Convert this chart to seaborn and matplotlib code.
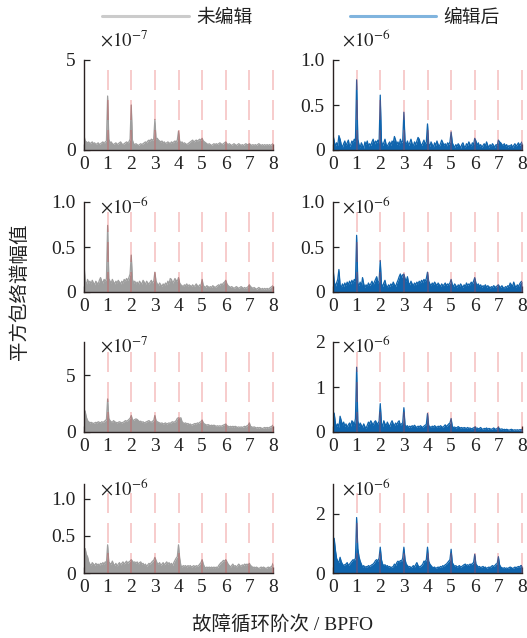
import numpy as np
import seaborn as sns
import matplotlib
matplotlib.use("Agg")
import matplotlib.pyplot as plt
from matplotlib.lines import Line2D

# Fault order axis (multiples of BPFO), 0.05 resolution
orders = np.round(np.arange(161) * 0.05, 2)

# Squared envelope spectra, case 1 (units shown by each panel's multiplier)
raw_1 = [0.8, 0.5, 0.45, 0.4, 0.45, 0.35, 0.4, 0.45, 0.35, 0.4, 0.3, 0.35, 0.4, 0.3, 0.35, 0.4, 0.45, 0.35, 0.45, 0.5,
         3.0, 0.6, 0.4, 0.45, 0.35, 0.3, 0.35, 0.4, 0.3, 0.35, 0.4, 0.45, 0.35, 0.3, 0.35, 0.4, 0.45, 0.4, 0.45, 0.6,
         2.5, 0.55, 0.35, 0.3, 0.35, 0.3, 0.25, 0.3, 0.35, 0.3, 0.35, 0.4, 0.45, 0.4, 0.5, 0.55, 0.5, 0.6, 0.55, 0.6,
         1.7, 0.6, 0.65, 0.55, 0.5, 0.45, 0.5, 0.4, 0.45, 0.35, 0.4, 0.45, 0.4, 0.35, 0.45, 0.4, 0.45, 0.5, 0.45, 0.55,
         1.05, 0.5, 0.4, 0.45, 0.35, 0.4, 0.35, 0.3, 0.35, 0.4, 0.45, 0.5, 0.55, 0.45, 0.5, 0.55, 0.5, 0.55, 0.6, 0.55,
         0.65, 0.5, 0.45, 0.4, 0.35, 0.3, 0.35, 0.3, 0.25, 0.3, 0.35, 0.3, 0.35, 0.3, 0.35, 0.4, 0.35, 0.3, 0.35, 0.4,
         0.45, 0.35, 0.3, 0.35, 0.3, 0.25, 0.3, 0.35, 0.3, 0.25, 0.3, 0.35, 0.3, 0.25, 0.3, 0.25, 0.3, 0.35, 0.3, 0.3,
         0.35, 0.3, 0.25, 0.3, 0.25, 0.3, 0.25, 0.3, 0.35, 0.3, 0.25, 0.3, 0.25, 0.3, 0.25, 0.3, 0.25, 0.3, 0.25, 0.3,
         0.35]
edit_1 = [0.17, 0.1, 0.04, 0.08, 0.05, 0.16, 0.12, 0.06, 0.03, 0.07, 0.1, 0.05, 0.08, 0.11, 0.04, 0.06, 0.1, 0.08, 0.12, 0.1,
          0.78, 0.12, 0.06, 0.03, 0.08, 0.05, 0.02, 0.09, 0.06, 0.1, 0.04, 0.07, 0.05, 0.09, 0.12, 0.06, 0.1, 0.08, 0.11, 0.07,
          0.61, 0.1, 0.05, 0.08, 0.12, 0.06, 0.04, 0.07, 0.09, 0.05, 0.1, 0.08, 0.15, 0.11, 0.06, 0.09, 0.05, 0.12, 0.08, 0.1,
          0.42, 0.09, 0.06, 0.1, 0.05, 0.08, 0.12, 0.07, 0.04, 0.09, 0.06, 0.1, 0.14, 0.12, 0.07, 0.05, 0.08, 0.11, 0.06, 0.09,
          0.29, 0.07, 0.04, 0.09, 0.06, 0.03, 0.08, 0.05, 0.1, 0.06, 0.04, 0.07, 0.11, 0.08, 0.05, 0.07, 0.04, 0.08, 0.06, 0.09,
          0.2, 0.08, 0.05, 0.03, 0.06, 0.04, 0.07, 0.05, 0.02, 0.06, 0.08, 0.04, 0.03, 0.07, 0.05, 0.09, 0.06, 0.04, 0.08, 0.06,
          0.13, 0.1, 0.05, 0.08, 0.04, 0.06, 0.03, 0.05, 0.07, 0.04, 0.09, 0.05, 0.03, 0.06, 0.04, 0.07, 0.05, 0.03, 0.06, 0.05,
          0.11, 0.09, 0.08, 0.06, 0.05, 0.07, 0.04, 0.06, 0.03, 0.05, 0.04, 0.06, 0.03, 0.05, 0.07, 0.04, 0.06, 0.08, 0.05, 0.07,
          0.09]

# Case 2
raw_2 = [0.31, 0.12, 0.08, 0.14, 0.1, 0.12, 0.09, 0.13, 0.1, 0.08, 0.12, 0.1, 0.09, 0.13, 0.16, 0.12, 0.1, 0.14, 0.12, 0.15,
         0.74, 0.15, 0.12, 0.1, 0.14, 0.11, 0.09, 0.12, 0.1, 0.13, 0.11, 0.09, 0.12, 0.1, 0.14, 0.12, 0.15, 0.13, 0.16, 0.2,
         0.41, 0.14, 0.1, 0.12, 0.09, 0.11, 0.08, 0.12, 0.1, 0.09, 0.13, 0.11, 0.08, 0.12, 0.1, 0.09, 0.11, 0.13, 0.1, 0.12,
         0.22, 0.12, 0.09, 0.07, 0.1, 0.08, 0.06, 0.09, 0.07, 0.1, 0.08, 0.12, 0.09, 0.15, 0.14, 0.1, 0.12, 0.15, 0.13, 0.12,
         0.16, 0.1, 0.08, 0.07, 0.06, 0.08, 0.07, 0.09, 0.06, 0.08, 0.07, 0.06, 0.08, 0.06, 0.07, 0.09, 0.07, 0.06, 0.08, 0.07,
         0.14, 0.07, 0.06, 0.05, 0.07, 0.06, 0.05, 0.06, 0.05, 0.07, 0.06, 0.05, 0.06, 0.07, 0.08, 0.07, 0.09, 0.08, 0.1, 0.11,
         0.13, 0.09, 0.07, 0.06, 0.05, 0.06, 0.05, 0.04, 0.05, 0.06, 0.05, 0.04, 0.05, 0.06, 0.05, 0.04, 0.05, 0.04, 0.05, 0.06,
         0.08, 0.06, 0.05, 0.04, 0.05, 0.04, 0.03, 0.04, 0.05, 0.04, 0.03, 0.04, 0.03, 0.04, 0.03, 0.04, 0.03, 0.04, 0.05, 0.06,
         0.07]
edit_2 = [0.27, 0.12, 0.06, 0.1, 0.14, 0.25, 0.08, 0.05, 0.09, 0.06, 0.1, 0.07, 0.11, 0.08, 0.12, 0.09, 0.13, 0.1, 0.14, 0.12,
          0.63, 0.1, 0.07, 0.11, 0.06, 0.16, 0.09, 0.05, 0.08, 0.06, 0.1, 0.07, 0.09, 0.12, 0.08, 0.11, 0.14, 0.17, 0.1, 0.12,
          0.35, 0.09, 0.06, 0.1, 0.13, 0.07, 0.05, 0.08, 0.06, 0.09, 0.07, 0.11, 0.08, 0.06, 0.1, 0.13, 0.17, 0.2, 0.16, 0.19,
          0.2, 0.15, 0.12, 0.17, 0.1, 0.08, 0.12, 0.09, 0.07, 0.1, 0.08, 0.11, 0.09, 0.12, 0.1, 0.13, 0.11, 0.14, 0.12, 0.15,
          0.22, 0.12, 0.09, 0.07, 0.1, 0.08, 0.11, 0.09, 0.07, 0.1, 0.08, 0.06, 0.09, 0.07, 0.08, 0.1, 0.07, 0.09, 0.08, 0.1,
          0.14, 0.08, 0.06, 0.09, 0.07, 0.05, 0.08, 0.06, 0.09, 0.07, 0.05, 0.08, 0.06, 0.1, 0.07, 0.09, 0.08, 0.11, 0.09, 0.12,
          0.16, 0.1, 0.07, 0.09, 0.06, 0.08, 0.05, 0.07, 0.06, 0.08, 0.05, 0.07, 0.06, 0.04, 0.06, 0.05, 0.07, 0.06, 0.05, 0.07,
          0.08, 0.06, 0.05, 0.07, 0.05, 0.04, 0.06, 0.05, 0.07, 0.06, 0.1, 0.08, 0.06, 0.11, 0.07, 0.05, 0.08, 0.06, 0.09, 0.11,
          0.12]

# Case 3
raw_3 = [2.0, 1.8, 1.3, 1.0, 0.9, 0.8, 0.85, 0.8, 0.75, 0.8, 0.85, 0.8, 0.9, 0.85, 0.8, 0.9, 0.85, 0.9, 1.0, 1.1,
         2.9, 1.2, 1.0, 0.9, 0.85, 1.0, 0.9, 0.85, 0.8, 0.85, 0.9, 0.85, 0.8, 0.85, 0.9, 1.0, 0.95, 1.0, 1.1, 1.2,
         1.45, 1.1, 1.0, 1.1, 1.15, 1.1, 1.0, 0.9, 0.95, 0.85, 0.9, 0.8, 0.85, 0.9, 0.95, 1.0, 0.9, 0.85, 0.95, 1.0,
         1.45, 1.0, 0.9, 0.85, 0.8, 0.75, 0.8, 0.7, 0.75, 0.8, 0.7, 0.75, 0.8, 0.75, 0.85, 0.9, 0.85, 0.9, 1.0, 1.2,
         1.25, 1.2, 1.25, 0.9, 0.8, 0.75, 0.8, 0.7, 0.75, 0.65, 0.7, 0.6, 0.65, 0.7, 0.75, 0.7, 0.8, 0.75, 0.85, 0.9,
         1.05, 0.8, 0.7, 0.65, 0.6, 0.65, 0.6, 0.55, 0.6, 0.55, 0.6, 0.55, 0.5, 0.55, 0.5, 0.55, 0.5, 0.55, 0.6, 0.65,
         0.7, 0.55, 0.5, 0.45, 0.5, 0.45, 0.5, 0.45, 0.5, 0.45, 0.4, 0.45, 0.4, 0.45, 0.4, 0.45, 0.5, 0.45, 0.55, 0.6,
         0.8, 0.5, 0.45, 0.4, 0.45, 0.4, 0.35, 0.4, 0.35, 0.4, 0.35, 0.3, 0.35, 0.4, 0.35, 0.4, 0.35, 0.4, 0.45, 0.5,
         0.6]
edit_3 = [0.3, 0.42, 0.2, 0.12, 0.18, 0.1, 0.35, 0.25, 0.15, 0.22, 0.12, 0.18, 0.1, 0.16, 0.2, 0.13, 0.25, 0.22, 0.15, 0.3,
          1.44, 0.25, 0.12, 0.2, 0.15, 0.1, 0.18, 0.12, 0.08, 0.15, 0.22, 0.18, 0.25, 0.2, 0.15, 0.22, 0.25, 0.2, 0.18, 0.24,
          0.63, 0.2, 0.12, 0.25, 0.18, 0.14, 0.22, 0.16, 0.12, 0.2, 0.25, 0.18, 0.14, 0.2, 0.16, 0.22, 0.25, 0.15, 0.18, 0.2,
          0.54, 0.15, 0.12, 0.14, 0.1, 0.13, 0.11, 0.14, 0.12, 0.15, 0.12, 0.1, 0.13, 0.11, 0.14, 0.12, 0.1, 0.13, 0.15, 0.17,
          0.41, 0.14, 0.12, 0.1, 0.13, 0.11, 0.14, 0.12, 0.1, 0.13, 0.11, 0.14, 0.12, 0.1, 0.13, 0.16, 0.12, 0.15, 0.18, 0.2,
          0.3, 0.12, 0.1, 0.11, 0.09, 0.1, 0.12, 0.1, 0.09, 0.1, 0.08, 0.1, 0.09, 0.08, 0.1, 0.08, 0.09, 0.07, 0.08, 0.09,
          0.11, 0.08, 0.09, 0.07, 0.08, 0.1, 0.07, 0.06, 0.08, 0.07, 0.09, 0.06, 0.08, 0.07, 0.06, 0.07, 0.09, 0.07, 0.06, 0.08,
          0.1, 0.07, 0.06, 0.07, 0.05, 0.06, 0.05, 0.06, 0.05, 0.04, 0.05, 0.06, 0.05, 0.04, 0.05, 0.04, 0.05, 0.04, 0.05, 0.05,
          0.06]

# Case 4
raw_4 = [0.28, 0.33, 0.25, 0.22, 0.15, 0.12, 0.1, 0.14, 0.12, 0.1, 0.13, 0.11, 0.12, 0.1, 0.13, 0.12, 0.14, 0.12, 0.15, 0.14,
         0.38, 0.15, 0.13, 0.12, 0.16, 0.12, 0.1, 0.13, 0.09, 0.12, 0.14, 0.11, 0.13, 0.15, 0.12, 0.14, 0.16, 0.13, 0.15, 0.16,
         0.18, 0.16, 0.14, 0.15, 0.13, 0.15, 0.12, 0.14, 0.15, 0.12, 0.13, 0.1, 0.12, 0.09, 0.11, 0.13, 0.12, 0.14, 0.16, 0.17,
         0.21, 0.17, 0.13, 0.12, 0.14, 0.1, 0.12, 0.14, 0.11, 0.13, 0.15, 0.12, 0.14, 0.11, 0.13, 0.1, 0.14, 0.17, 0.2, 0.22,
         0.38, 0.2, 0.1, 0.08, 0.1, 0.09, 0.1, 0.08, 0.1, 0.09, 0.1, 0.08, 0.09, 0.1, 0.08, 0.1, 0.09, 0.1, 0.12, 0.14,
         0.18, 0.12, 0.08, 0.07, 0.08, 0.07, 0.08, 0.07, 0.08, 0.07, 0.08, 0.07, 0.08, 0.07, 0.1, 0.12, 0.14, 0.15, 0.17, 0.16,
         0.18, 0.15, 0.12, 0.1, 0.08, 0.1, 0.12, 0.09, 0.1, 0.08, 0.1, 0.12, 0.1, 0.09, 0.11, 0.1, 0.12, 0.11, 0.12, 0.11,
         0.13, 0.1, 0.09, 0.07, 0.08, 0.07, 0.08, 0.07, 0.06, 0.07, 0.08, 0.07, 0.08, 0.07, 0.06, 0.07, 0.08, 0.07, 0.08, 0.09,
         0.13]
edit_4 = [0.87, 1.17, 0.78, 0.5, 0.4, 0.35, 0.53, 0.38, 0.3, 0.25, 0.28, 0.3, 0.35, 0.25, 0.3, 0.35, 0.4, 0.45, 0.42, 0.5,
          1.87, 0.83, 0.55, 0.4, 0.3, 0.2, 0.25, 0.18, 0.22, 0.2, 0.25, 0.22, 0.25, 0.28, 0.3, 0.35, 0.42, 0.45, 0.4, 0.5,
          0.87, 0.45, 0.3, 0.25, 0.28, 0.22, 0.25, 0.2, 0.22, 0.18, 0.2, 0.22, 0.3, 0.25, 0.35, 0.4, 0.35, 0.42, 0.4, 0.5,
          0.87, 0.45, 0.3, 0.25, 0.2, 0.22, 0.18, 0.2, 0.25, 0.2, 0.28, 0.35, 0.25, 0.2, 0.22, 0.25, 0.3, 0.4, 0.38, 0.45,
          0.87, 0.4, 0.3, 0.25, 0.2, 0.18, 0.2, 0.15, 0.18, 0.2, 0.18, 0.22, 0.2, 0.25, 0.22, 0.28, 0.3, 0.35, 0.4, 0.45,
          0.8, 0.35, 0.28, 0.22, 0.25, 0.2, 0.22, 0.25, 0.2, 0.22, 0.25, 0.28, 0.3, 0.25, 0.28, 0.25, 0.3, 0.28, 0.32, 0.35,
          0.63, 0.3, 0.25, 0.2, 0.22, 0.18, 0.2, 0.22, 0.18, 0.2, 0.15, 0.18, 0.2, 0.18, 0.22, 0.25, 0.22, 0.25, 0.3, 0.32,
          0.55, 0.28, 0.2, 0.18, 0.15, 0.18, 0.15, 0.17, 0.15, 0.18, 0.2, 0.18, 0.15, 0.17, 0.2, 0.18, 0.2, 0.22, 0.2, 0.25,
          0.25]

# Per-panel scale exponents and y-axis ticks
exponents = [[-7, -6], [-6, -6], [-7, -6], [-6, -6]]
y_limits = [[5, 1.0], [1.0, 1.0], [7.9, 2], [1.2, 3.0]]
y_ticks = [[[0, 5], [0, 0.5, 1.0]], [[0, 0.5, 1.0], [0, 0.5, 1.0]],
           [[0, 5], [0, 1, 2]], [[0, 0.5, 1.0], [0, 2]]]
y_tick_labels = [[["0", "5"], ["0", "0.5", "1.0"]], [["0", "0.5", "1.0"], ["0", "0.5", "1.0"]],
                 [["0", "5"], ["0", "1", "2"]], [["0", "0.5", "1.0"], ["0", "2"]]]
x_ticks = [0, 1, 2, 3, 4, 5, 6, 7, 8]
fault_orders = [1, 2, 3, 4, 5, 6, 7, 8]
series_names = ["未编辑", "编辑后"]

spectra = [[raw_1, edit_1], [raw_2, edit_2], [raw_3, edit_3], [raw_4, edit_4]]

sns.set_theme(style="ticks")
plt.rcParams["font.family"] = ["Liberation Serif", "Noto Sans CJK SC"]
plt.rcParams["mathtext.fontset"] = "stix"
plt.rcParams["axes.unicode_minus"] = True

W, H = 527, 638
fig = plt.figure(figsize=(W / 100, H / 100), dpi=100)

colors = ["#9e9e9e", "#0f64ad"]
legend_colors = ["#cbcbcb", "#80b4de"]
col_left_px = [84, 333]
row_top_px = [60, 202, 342, 484]
row_bottom_px = [150, 292, 432, 573]
axes_w_px = 189
# vertical position (px) of the multiplier text centre per row
mult_y_px = [40, 207, 346, 489]
mult_x_px = [100, 342]

for r in range(4):
    for c in range(2):
        left = col_left_px[c] / W
        bottom = 1 - row_bottom_px[r] / H
        height = (row_bottom_px[r] - row_top_px[r]) / H
        ax = fig.add_axes([left, bottom, axes_w_px / W, height])
        vals = np.asarray(spectra[r][c])
        sns.lineplot(x=orders, y=vals, ax=ax, color=colors[c], lw=0.9, zorder=2)
        ax.fill_between(orders, vals, color=colors[c], lw=0, zorder=2)
        for k in fault_orders:
            ax.axvline(k, color="#e03838", alpha=0.3, lw=1.2, ls=(0, (12, 6)),
                       zorder=3, clip_on=False)
        ax.set_xlim(0, 8)
        ax.set_ylim(0, y_limits[r][c])
        ax.set_xticks(x_ticks)
        ax.set_xticklabels([str(t) for t in x_ticks])
        ax.set_yticks(y_ticks[r][c])
        ax.set_yticklabels(y_tick_labels[r][c])
        ax.tick_params(direction="in", length=4, width=0.9, labelsize=14,
                       pad=4, colors="#222222", labelcolor="#222222")
        ax.tick_params(axis="y", pad=6)
        for s in ["top", "right"]:
            ax.spines[s].set_visible(False)
        for s in ["left", "bottom"]:
            ax.spines[s].set_color("#2a2222")
            ax.spines[s].set_linewidth(1.0)
        ax.set_xlabel("")
        ax.set_ylabel("")
        fig.text(mult_x_px[c] / W, 1 - mult_y_px[r] / H,
                 r"$\times10^{%d}$" % exponents[r][c], fontsize=13.5,
                 ha="left", va="center", color="#222222")

# Axis titles
fig.text(282 / W, 1 - 624 / H, "故障循环阶次 / BPFO", ha="center", va="center",
         fontsize=14, color="#222222")
fig.text(20 / W, 1 - 292 / H, "平方包络谱幅值", ha="center", va="center",
         rotation=90, fontsize=14, color="#222222")

# Legend across the top
handles = [Line2D([], [], color=legend_colors[i], lw=2.2) for i in range(2)]
fig.legend(handles, series_names, loc="center", bbox_to_anchor=(301 / W, 1 - 18 / H),
           ncol=2, frameon=False, fontsize=13.5, handlelength=4.6,
           handletextpad=0.4, columnspacing=5.2, labelcolor="#222222")

fig.savefig("out.png", dpi=100)
